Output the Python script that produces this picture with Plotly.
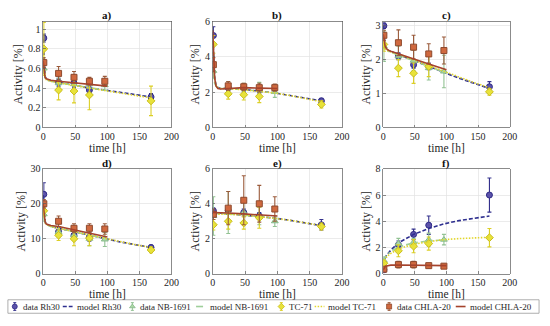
import plotly.graph_objects as go

# ---------------- data ----------------
PANEL_LABELS = ["a)", "b)", "c)", "d)", "e)", "f)"]
Y_MAX = [1.08, 6.0, 3.13, 30, 6, 8]
Y_TICKS = [[0, 0.2, 0.4, 0.6, 0.8, 1], [0, 2, 4, 6], [0, 1, 2, 3],
           [0, 10, 20, 30], [0, 2, 4, 6], [0, 2, 4, 6, 8]]
Y_TICKTEXT = [["0", "0.2", "0.4", "0.6", "0.8", "1"], ["0", "2", "4", "6"], ["0", "1", "2", "3"],
              ["0", "10", "20", "30"], ["0", "2", "4", "6"], ["0", "2", "4", "6", "8"]]
X_TICKS = [0, 50, 100, 150, 200]

T_DATA_LONG = [1, 24, 48, 72, 168]      # Rh30, TC-71
T_DATA_SHORT = [1, 24, 48, 72, 96]      # NB-1691, CHLA-20
T_MODEL_LONG = [0, 1, 2, 3, 5, 8, 12, 24, 48, 72, 96, 120, 144, 168]
T_MODEL_SHORT = [0, 1, 2, 3, 5, 8, 12, 24, 48, 72, 100]

RH30_MEAN = [[0.91, 0.46, 0.45, 0.38, 0.31],
             [5.2, 2.25, 2.25, 2.15, 1.5],
             [3.0, 2.1, 1.85, 1.8, 1.2],
             [22.7, 12.0, 11.0, 10.5, 7.5],
             [3.6, 3.6, 3.5, 3.3, 2.8],
             [0.3, 2.2, 3.0, 3.7, 6.0]]
RH30_ERR = [[0.04, 0.04, 0.04, 0.04, 0.035],
            [0.5, 0.2, 0.2, 0.2, 0.15],
            [0.08, 0.1, 0.1, 0.1, 0.15],
            [3.3, 1.2, 1.0, 1.2, 0.7],
            [0.15, 0.2, 0.2, 0.2, 0.3],
            [0.1, 0.3, 0.4, 0.7, 1.3]]
RH30_MODEL = [[0.90, 0.70, 0.58, 0.52, 0.49, 0.48, 0.475, 0.46, 0.43, 0.40, 0.38, 0.355, 0.33, 0.31],
              [5.3, 4.2, 3.3, 2.8, 2.4, 2.25, 2.2, 2.2, 2.15, 2.05, 1.95, 1.8, 1.65, 1.5],
              [3.0, 2.75, 2.55, 2.42, 2.32, 2.27, 2.24, 2.15, 1.97, 1.8, 1.62, 1.45, 1.3, 1.15],
              [22.5, 19, 16.5, 15, 14.2, 13.8, 13.5, 13.0, 12.0, 11.0, 10.0, 9.1, 8.3, 7.5],
              [3.55, 3.53, 3.52, 3.51, 3.50, 3.49, 3.48, 3.45, 3.38, 3.28, 3.18, 3.05, 2.9, 2.75],
              [0.7, 0.9, 1.05, 1.2, 1.4, 1.6, 1.8, 2.35, 3.0, 3.45, 3.8, 4.05, 4.25, 4.4]]

NB_MEAN = [[0.60, 0.45, 0.44, 0.44, 0.43],
           [3.2, 2.3, 2.25, 2.25, 2.0],
           [2.4, 2.1, 1.97, 1.75, 1.65],
           [17.0, 12.0, 11.0, 10.0, 9.8],
           [3.3, 3.5, 3.5, 3.3, 3.0],
           [1.0, 2.3, 2.4, 2.6, 2.6]]
NB_ERR = [[0.05, 0.05, 0.05, 0.04, 0.05],
          [0.4, 0.3, 0.25, 0.3, 0.3],
          [0.45, 0.3, 0.3, 0.35, 0.48],
          [2.0, 1.5, 1.5, 2.0, 2.0],
          [1.1, 1.2, 0.6, 0.5, 0.3],
          [0.3, 0.4, 0.3, 0.5, 0.4]]
NB_MODEL = [[0.62, 0.56, 0.52, 0.50, 0.485, 0.475, 0.47, 0.455, 0.43, 0.40, 0.375],
            [3.4, 3.0, 2.7, 2.5, 2.35, 2.25, 2.2, 2.2, 2.15, 2.05, 1.93],
            [2.5, 2.4, 2.35, 2.3, 2.27, 2.25, 2.23, 2.15, 1.97, 1.8, 1.6],
            [17.5, 16, 15, 14.5, 14, 13.7, 13.5, 13.0, 12.0, 11.0, 9.9],
            [3.45, 3.45, 3.45, 3.45, 3.45, 3.44, 3.43, 3.42, 3.36, 3.27, 3.15],
            [0.9, 1.05, 1.15, 1.25, 1.4, 1.55, 1.7, 2.05, 2.35, 2.5, 2.6]]

TC_MEAN = [[0.80, 0.38, 0.37, 0.33, 0.27],
           [4.7, 1.9, 1.85, 1.75, 1.3],
           [2.45, 1.75, 1.6, 1.8, 1.05],
           [18.0, 11.0, 10.0, 10.2, 6.8],
           [2.8, 3.0, 2.9, 3.2, 2.7],
           [0.8, 1.75, 2.1, 2.3, 2.75]]
TC_ERR = [[0.27, 0.1, 0.12, 0.15, 0.15],
          [0.5, 0.3, 0.3, 0.35, 0.2],
          [0.2, 0.25, 0.3, 0.3, 0.1],
          [1.5, 1.5, 2.0, 2.2, 0.8],
          [0.3, 0.45, 0.35, 0.6, 0.2],
          [0.2, 0.45, 0.5, 0.5, 0.7]]
TC_MODEL = [[0.80, 0.66, 0.56, 0.51, 0.485, 0.475, 0.47, 0.455, 0.425, 0.40, 0.375, 0.35, 0.325, 0.30],
            [4.8, 3.9, 3.2, 2.75, 2.4, 2.25, 2.2, 2.2, 2.12, 2.05, 1.95, 1.8, 1.62, 1.45],
            [2.5, 2.42, 2.36, 2.32, 2.28, 2.25, 2.23, 2.16, 1.99, 1.82, 1.65, 1.48, 1.32, 1.17],
            [18, 16.5, 15.3, 14.6, 14.1, 13.8, 13.5, 13.0, 12.0, 11.0, 10.1, 9.2, 8.3, 7.5],
            [3.3, 3.33, 3.36, 3.38, 3.4, 3.41, 3.41, 3.4, 3.35, 3.27, 3.17, 3.05, 2.9, 2.75],
            [0.8, 0.9, 1.0, 1.1, 1.25, 1.4, 1.55, 1.9, 2.25, 2.45, 2.6, 2.68, 2.74, 2.78]]

CHLA_MEAN = [[0.66, 0.55, 0.51, 0.47, 0.47],
             [3.55, 2.35, 2.3, 2.25, 2.25],
             [2.72, 2.5, 2.37, 2.17, 2.27],
             [20.0, 15.0, 13.0, 13.0, 12.8],
             [3.4, 3.75, 4.2, 4.0, 3.7],
             [0.35, 0.7, 0.7, 0.62, 0.58]]
CHLA_ERR = [[0.05, 0.07, 0.06, 0.04, 0.05],
            [0.4, 0.25, 0.2, 0.25, 0.2],
            [0.15, 0.38, 0.35, 0.3, 0.4],
            [1.2, 1.5, 1.3, 1.3, 1.5],
            [0.3, 0.95, 1.4, 1.05, 0.7],
            [0.1, 0.25, 0.25, 0.18, 0.17]]
CHLA_MODEL = [[0.68, 0.60, 0.54, 0.51, 0.495, 0.485, 0.48, 0.47, 0.455, 0.44, 0.42],
              [5.5, 4.3, 3.4, 2.8, 2.35, 2.2, 2.17, 2.2, 2.25, 2.22, 2.2],
              [2.75, 2.6, 2.48, 2.4, 2.33, 2.28, 2.25, 2.17, 2.02, 1.87, 1.7],
              [20, 17.5, 15.8, 14.8, 14.2, 13.95, 13.8, 13.5, 12.5, 11.5, 10.5],
              [3.5, 3.5, 3.5, 3.5, 3.5, 3.5, 3.49, 3.47, 3.42, 3.36, 3.3],
              [0.3, 0.4, 0.48, 0.54, 0.6, 0.64, 0.66, 0.67, 0.66, 0.64, 0.62]]

# ---------------- styles ----------------
FONT = "Liberation Serif, Times New Roman, serif"
TXT = "#262626"
SERIES = [
    dict(data_name="data Rh30", model_name="model Rh30", mean=RH30_MEAN, err=RH30_ERR,
         model=RH30_MODEL, td=T_DATA_LONG, tm=T_MODEL_LONG, symbol="circle",
         fill="#5b52aa", edge="#2f2a86", errc="#33308c", line="#2e2f8f", dash="4px,2px"),
    dict(data_name="data NB-1691", model_name="model NB-1691", mean=NB_MEAN, err=NB_ERR,
         model=NB_MODEL, td=T_DATA_SHORT, tm=T_MODEL_SHORT, symbol="triangle-up",
         fill="#acd8a6", edge="#86b98a", errc="#92c293", line="#9fcf9a", dash="7px,3px,2px,3px"),
    dict(data_name="TC-71", model_name="model TC-71", mean=TC_MEAN, err=TC_ERR,
         model=TC_MODEL, td=T_DATA_LONG, tm=T_MODEL_LONG, symbol="diamond",
         fill="#e8e23a", edge="#c9bd1a", errc="#dccf26", line="#e2d62c", dash="1.5px,1.5px"),
    dict(data_name="data CHLA-20", model_name="model CHLA-20", mean=CHLA_MEAN, err=CHLA_ERR,
         model=CHLA_MODEL, td=T_DATA_SHORT, tm=T_MODEL_SHORT, symbol="square",
         fill="#d0693f", edge="#8e4a2e", errc="#9a5a3a", line="#a5432c", dash="solid"),
]

W, H = 550, 326
COL_PX = [(41, 172), (214, 346), (388, 517)]
ROW_PX = [(16, 126), (169, 278)]

fig = go.Figure()
layout = dict(width=W, height=H, margin=dict(l=0, r=0, t=0, b=0),
              paper_bgcolor="white", plot_bgcolor="rgba(0,0,0,0)",
              showlegend=False, font=dict(family=FONT, color=TXT, size=10))
annotations = []

for i in range(6):
    r, c = divmod(i, 3)
    xs = "" if i == 0 else str(i + 1)
    x0, x1 = COL_PX[c]
    top, bot = ROW_PX[r]
    xdom = [x0 / W, x1 / W]
    ydom = [1 - bot / H, 1 - top / H]
    common = dict(showgrid=True, gridcolor="#e3e3e3", gridwidth=0.7, showline=True, mirror=True,
                  linecolor="#5a5a5a", linewidth=0.7, ticks="inside", ticklen=2.5,
                  tickcolor="#5a5a5a", tickwidth=0.7, zeroline=False,
                  tickfont=dict(family=FONT, size=10, color=TXT))
    layout["xaxis" + xs] = dict(common, domain=xdom, range=[0, 200], tickvals=X_TICKS,
                                anchor="y" + xs,
                                title=dict(text="time [h]", standoff=0,
                                           font=dict(family=FONT, size=11.5, color=TXT)))
    layout["yaxis" + xs] = dict(common, domain=ydom, range=[0, Y_MAX[i]], tickvals=Y_TICKS[i],
                                ticktext=Y_TICKTEXT[i], anchor="x" + xs,
                                title=dict(text="Activity [%]", standoff=2,
                                           font=dict(family=FONT, size=12, color=TXT)))
    annotations.append(dict(text="<b>" + PANEL_LABELS[i] + "</b>", xref="paper", yref="paper",
                            x=(xdom[0] + xdom[1]) / 2, y=1 - (top - 6) / H, xanchor="center",
                            yanchor="middle", showarrow=False,
                            font=dict(family=FONT, size=11, color="#111")))
    for s in SERIES:
        fig.add_trace(go.Scatter(
            x=s["td"], y=s["mean"][i], mode="markers", xaxis="x" + xs, yaxis="y" + xs,
            name=s["data_name"],
            error_y=dict(type="data", array=s["err"][i], visible=True, color=s["errc"],
                         thickness=1.1, width=2),
            marker=dict(symbol=s["symbol"], size=6, color=s["fill"],
                        line=dict(color=s["edge"], width=1))))
        fig.add_trace(go.Scatter(
            x=s["tm"], y=s["model"][i], mode="lines", xaxis="x" + xs, yaxis="y" + xs,
            name=s["model_name"], line=dict(color=s["line"], width=1.6, dash=s["dash"])))

# ---------------- custom one-row legend (pixel layout) ----------------
LEG_Y = 312
LEG_BOX = (5, 305, 547, 319)
LEG_FONT = 9
LEG_POS = [  # marker x, data text x, line x0, line x1, model text x
    (12, 18, 61, 71, 73),
    (132, 138, 197, 207, 209),
    (284, 290, 318, 328, 330),
    (394, 400, 462, 472, 474),
]
layout["xaxis7"] = dict(domain=[0, 1], range=[0, W], visible=False, fixedrange=True, anchor="y7")
layout["yaxis7"] = dict(domain=[0, 1], range=[H, 0], visible=False, fixedrange=True, anchor="x7")

shapes = [dict(type="rect", xref="x7", yref="y7", x0=LEG_BOX[0], y0=LEG_BOX[1],
               x1=LEG_BOX[2], y1=LEG_BOX[3], line=dict(color="#9a9a9a", width=0.8),
               fillcolor="white", layer="below")]
for s, (mx, tx, lx0, lx1, mtx) in zip(SERIES, LEG_POS):
    fig.add_trace(go.Scatter(
        x=[mx], y=[LEG_Y], mode="markers", xaxis="x7", yaxis="y7", hoverinfo="skip",
        error_y=dict(type="constant", value=4, color=s["errc"], thickness=1, width=1.5),
        marker=dict(symbol=s["symbol"], size=5, color=s["fill"], line=dict(color=s["edge"], width=0.8))))
    fig.add_trace(go.Scatter(
        x=[lx0, lx1], y=[LEG_Y, LEG_Y], mode="lines", xaxis="x7", yaxis="y7", hoverinfo="skip",
        line=dict(color=s["line"], width=1.6, dash=s["dash"])))
    for txt, xx in ((s["data_name"], tx), (s["model_name"], mtx)):
        annotations.append(dict(text=txt, xref="x7", yref="y7", x=xx, y=LEG_Y, xanchor="left",
                                yanchor="middle", showarrow=False,
                                font=dict(family=FONT, size=LEG_FONT, color=TXT)))

layout["annotations"] = annotations
layout["shapes"] = shapes
fig.update_layout(**layout)
fig.write_html("out.html", config={"displayModeBar": False, "staticPlot": True},
               post_script="document.body.style.margin='0';document.body.style.padding='0';"
                           "document.body.style.overflow='hidden';")
